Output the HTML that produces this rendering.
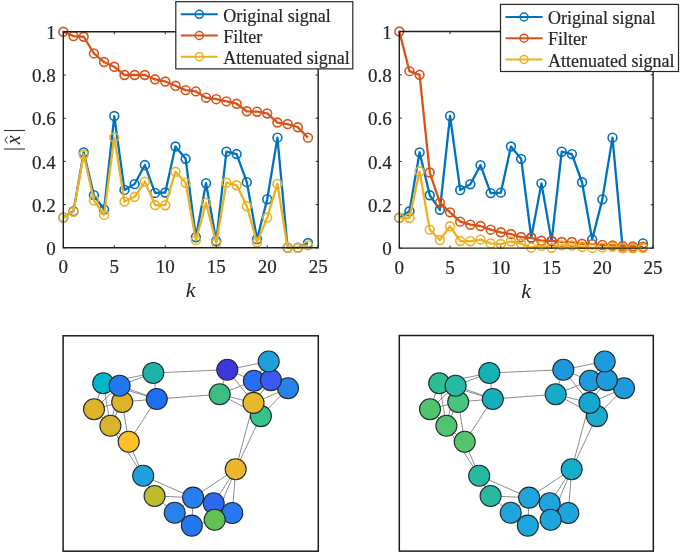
<!DOCTYPE html>
<html><head><meta charset="utf-8"><style>
html,body{margin:0;padding:0;background:#fff;}
body{width:685px;height:554px;overflow:hidden;}
svg{display:block;filter:blur(0.35px);}
.t{font-family:"Liberation Serif",serif;font-size:18px;fill:#262626;stroke:#262626;stroke-width:0.2px;}
.n{font-size:19px;}
.k{font-style:italic;stroke-width:0;}
</style></head><body>
<svg width="685" height="554" viewBox="0 0 685 554">
<rect x="63.3" y="31.8" width="254.9" height="216.0" fill="#fff" stroke="none"/>
<polyline points="63.30,217.56 73.50,211.08 83.69,152.33 93.89,195.10 104.08,209.57 114.28,116.04 124.48,189.91 134.67,184.08 144.87,165.07 155.06,192.94 165.26,192.50 175.46,146.50 185.65,158.81 195.85,237.22 206.04,183.22 216.24,240.89 226.44,151.68 236.63,154.06 246.83,182.14 257.02,239.16 267.22,199.20 277.42,137.64 287.61,247.80 297.81,247.80 308.00,243.05" fill="none" stroke="#0072BD" stroke-width="2.3" stroke-linejoin="round"/>
<circle cx="63.30" cy="217.56" r="4.4" fill="none" stroke="#0072BD" stroke-width="1.6"/>
<circle cx="73.50" cy="211.08" r="4.4" fill="none" stroke="#0072BD" stroke-width="1.6"/>
<circle cx="83.69" cy="152.33" r="4.4" fill="none" stroke="#0072BD" stroke-width="1.6"/>
<circle cx="93.89" cy="195.10" r="4.4" fill="none" stroke="#0072BD" stroke-width="1.6"/>
<circle cx="104.08" cy="209.57" r="4.4" fill="none" stroke="#0072BD" stroke-width="1.6"/>
<circle cx="114.28" cy="116.04" r="4.4" fill="none" stroke="#0072BD" stroke-width="1.6"/>
<circle cx="124.48" cy="189.91" r="4.4" fill="none" stroke="#0072BD" stroke-width="1.6"/>
<circle cx="134.67" cy="184.08" r="4.4" fill="none" stroke="#0072BD" stroke-width="1.6"/>
<circle cx="144.87" cy="165.07" r="4.4" fill="none" stroke="#0072BD" stroke-width="1.6"/>
<circle cx="155.06" cy="192.94" r="4.4" fill="none" stroke="#0072BD" stroke-width="1.6"/>
<circle cx="165.26" cy="192.50" r="4.4" fill="none" stroke="#0072BD" stroke-width="1.6"/>
<circle cx="175.46" cy="146.50" r="4.4" fill="none" stroke="#0072BD" stroke-width="1.6"/>
<circle cx="185.65" cy="158.81" r="4.4" fill="none" stroke="#0072BD" stroke-width="1.6"/>
<circle cx="195.85" cy="237.22" r="4.4" fill="none" stroke="#0072BD" stroke-width="1.6"/>
<circle cx="206.04" cy="183.22" r="4.4" fill="none" stroke="#0072BD" stroke-width="1.6"/>
<circle cx="216.24" cy="240.89" r="4.4" fill="none" stroke="#0072BD" stroke-width="1.6"/>
<circle cx="226.44" cy="151.68" r="4.4" fill="none" stroke="#0072BD" stroke-width="1.6"/>
<circle cx="236.63" cy="154.06" r="4.4" fill="none" stroke="#0072BD" stroke-width="1.6"/>
<circle cx="246.83" cy="182.14" r="4.4" fill="none" stroke="#0072BD" stroke-width="1.6"/>
<circle cx="257.02" cy="239.16" r="4.4" fill="none" stroke="#0072BD" stroke-width="1.6"/>
<circle cx="267.22" cy="199.20" r="4.4" fill="none" stroke="#0072BD" stroke-width="1.6"/>
<circle cx="277.42" cy="137.64" r="4.4" fill="none" stroke="#0072BD" stroke-width="1.6"/>
<circle cx="287.61" cy="247.80" r="4.4" fill="none" stroke="#0072BD" stroke-width="1.6"/>
<circle cx="297.81" cy="247.80" r="4.4" fill="none" stroke="#0072BD" stroke-width="1.6"/>
<circle cx="308.00" cy="243.05" r="4.4" fill="none" stroke="#0072BD" stroke-width="1.6"/>
<polyline points="63.30,31.80 73.50,36.12 83.69,36.77 93.89,53.40 104.08,62.04 114.28,66.79 124.48,75.00 134.67,75.00 144.87,75.00 155.06,79.32 165.26,81.48 175.46,85.80 185.65,90.12 195.85,91.42 206.04,97.68 216.24,99.19 226.44,101.35 236.63,103.73 246.83,111.29 257.02,111.72 267.22,113.45 277.42,122.52 287.61,124.03 297.81,127.27 308.00,137.64" fill="none" stroke="#D95319" stroke-width="2.3" stroke-linejoin="round"/>
<circle cx="63.30" cy="31.80" r="4.4" fill="none" stroke="#D95319" stroke-width="1.6"/>
<circle cx="73.50" cy="36.12" r="4.4" fill="none" stroke="#D95319" stroke-width="1.6"/>
<circle cx="83.69" cy="36.77" r="4.4" fill="none" stroke="#D95319" stroke-width="1.6"/>
<circle cx="93.89" cy="53.40" r="4.4" fill="none" stroke="#D95319" stroke-width="1.6"/>
<circle cx="104.08" cy="62.04" r="4.4" fill="none" stroke="#D95319" stroke-width="1.6"/>
<circle cx="114.28" cy="66.79" r="4.4" fill="none" stroke="#D95319" stroke-width="1.6"/>
<circle cx="124.48" cy="75.00" r="4.4" fill="none" stroke="#D95319" stroke-width="1.6"/>
<circle cx="134.67" cy="75.00" r="4.4" fill="none" stroke="#D95319" stroke-width="1.6"/>
<circle cx="144.87" cy="75.00" r="4.4" fill="none" stroke="#D95319" stroke-width="1.6"/>
<circle cx="155.06" cy="79.32" r="4.4" fill="none" stroke="#D95319" stroke-width="1.6"/>
<circle cx="165.26" cy="81.48" r="4.4" fill="none" stroke="#D95319" stroke-width="1.6"/>
<circle cx="175.46" cy="85.80" r="4.4" fill="none" stroke="#D95319" stroke-width="1.6"/>
<circle cx="185.65" cy="90.12" r="4.4" fill="none" stroke="#D95319" stroke-width="1.6"/>
<circle cx="195.85" cy="91.42" r="4.4" fill="none" stroke="#D95319" stroke-width="1.6"/>
<circle cx="206.04" cy="97.68" r="4.4" fill="none" stroke="#D95319" stroke-width="1.6"/>
<circle cx="216.24" cy="99.19" r="4.4" fill="none" stroke="#D95319" stroke-width="1.6"/>
<circle cx="226.44" cy="101.35" r="4.4" fill="none" stroke="#D95319" stroke-width="1.6"/>
<circle cx="236.63" cy="103.73" r="4.4" fill="none" stroke="#D95319" stroke-width="1.6"/>
<circle cx="246.83" cy="111.29" r="4.4" fill="none" stroke="#D95319" stroke-width="1.6"/>
<circle cx="257.02" cy="111.72" r="4.4" fill="none" stroke="#D95319" stroke-width="1.6"/>
<circle cx="267.22" cy="113.45" r="4.4" fill="none" stroke="#D95319" stroke-width="1.6"/>
<circle cx="277.42" cy="122.52" r="4.4" fill="none" stroke="#D95319" stroke-width="1.6"/>
<circle cx="287.61" cy="124.03" r="4.4" fill="none" stroke="#D95319" stroke-width="1.6"/>
<circle cx="297.81" cy="127.27" r="4.4" fill="none" stroke="#D95319" stroke-width="1.6"/>
<circle cx="308.00" cy="137.64" r="4.4" fill="none" stroke="#D95319" stroke-width="1.6"/>
<polyline points="63.30,217.56 73.50,211.81 83.69,154.52 93.89,200.37 104.08,214.92 114.28,137.39 124.48,201.49 134.67,196.82 144.87,181.62 155.06,205.01 165.26,205.22 175.46,171.82 185.65,182.84 195.85,240.14 206.04,202.91 216.24,243.04 226.44,182.63 236.63,185.27 246.83,206.30 257.02,242.36 267.22,217.57 277.42,183.91 287.61,247.80 297.81,247.80 308.00,245.38" fill="none" stroke="#EDB120" stroke-width="2.3" stroke-linejoin="round"/>
<circle cx="63.30" cy="217.56" r="4.4" fill="none" stroke="#EDB120" stroke-width="1.6"/>
<circle cx="73.50" cy="211.81" r="4.4" fill="none" stroke="#EDB120" stroke-width="1.6"/>
<circle cx="83.69" cy="154.52" r="4.4" fill="none" stroke="#EDB120" stroke-width="1.6"/>
<circle cx="93.89" cy="200.37" r="4.4" fill="none" stroke="#EDB120" stroke-width="1.6"/>
<circle cx="104.08" cy="214.92" r="4.4" fill="none" stroke="#EDB120" stroke-width="1.6"/>
<circle cx="114.28" cy="137.39" r="4.4" fill="none" stroke="#EDB120" stroke-width="1.6"/>
<circle cx="124.48" cy="201.49" r="4.4" fill="none" stroke="#EDB120" stroke-width="1.6"/>
<circle cx="134.67" cy="196.82" r="4.4" fill="none" stroke="#EDB120" stroke-width="1.6"/>
<circle cx="144.87" cy="181.62" r="4.4" fill="none" stroke="#EDB120" stroke-width="1.6"/>
<circle cx="155.06" cy="205.01" r="4.4" fill="none" stroke="#EDB120" stroke-width="1.6"/>
<circle cx="165.26" cy="205.22" r="4.4" fill="none" stroke="#EDB120" stroke-width="1.6"/>
<circle cx="175.46" cy="171.82" r="4.4" fill="none" stroke="#EDB120" stroke-width="1.6"/>
<circle cx="185.65" cy="182.84" r="4.4" fill="none" stroke="#EDB120" stroke-width="1.6"/>
<circle cx="195.85" cy="240.14" r="4.4" fill="none" stroke="#EDB120" stroke-width="1.6"/>
<circle cx="206.04" cy="202.91" r="4.4" fill="none" stroke="#EDB120" stroke-width="1.6"/>
<circle cx="216.24" cy="243.04" r="4.4" fill="none" stroke="#EDB120" stroke-width="1.6"/>
<circle cx="226.44" cy="182.63" r="4.4" fill="none" stroke="#EDB120" stroke-width="1.6"/>
<circle cx="236.63" cy="185.27" r="4.4" fill="none" stroke="#EDB120" stroke-width="1.6"/>
<circle cx="246.83" cy="206.30" r="4.4" fill="none" stroke="#EDB120" stroke-width="1.6"/>
<circle cx="257.02" cy="242.36" r="4.4" fill="none" stroke="#EDB120" stroke-width="1.6"/>
<circle cx="267.22" cy="217.57" r="4.4" fill="none" stroke="#EDB120" stroke-width="1.6"/>
<circle cx="277.42" cy="183.91" r="4.4" fill="none" stroke="#EDB120" stroke-width="1.6"/>
<circle cx="287.61" cy="247.80" r="4.4" fill="none" stroke="#EDB120" stroke-width="1.6"/>
<circle cx="297.81" cy="247.80" r="4.4" fill="none" stroke="#EDB120" stroke-width="1.6"/>
<circle cx="308.00" cy="245.38" r="4.4" fill="none" stroke="#EDB120" stroke-width="1.6"/>
<path d="M63.3,31.8 V247.8 H318.2 V31.8 Z" fill="none" stroke="#1f1f1f" stroke-width="1.4"/>
<line x1="63.30" y1="247.8" x2="63.30" y2="245.3" stroke="#262626" stroke-width="1"/>
<line x1="63.30" y1="31.8" x2="63.30" y2="34.3" stroke="#262626" stroke-width="1"/>
<text x="63.30" y="273.3" text-anchor="middle" class="t n">0</text>
<line x1="63.3" y1="247.80" x2="65.8" y2="247.80" stroke="#262626" stroke-width="1"/>
<line x1="318.2" y1="247.80" x2="315.7" y2="247.80" stroke="#262626" stroke-width="1"/>
<text x="55.8" y="255.00" text-anchor="end" class="t n">0</text>
<line x1="114.28" y1="247.8" x2="114.28" y2="245.3" stroke="#262626" stroke-width="1"/>
<line x1="114.28" y1="31.8" x2="114.28" y2="34.3" stroke="#262626" stroke-width="1"/>
<text x="114.28" y="273.3" text-anchor="middle" class="t n">5</text>
<line x1="63.3" y1="204.60" x2="65.8" y2="204.60" stroke="#262626" stroke-width="1"/>
<line x1="318.2" y1="204.60" x2="315.7" y2="204.60" stroke="#262626" stroke-width="1"/>
<text x="55.8" y="211.80" text-anchor="end" class="t n">0.2</text>
<line x1="165.26" y1="247.8" x2="165.26" y2="245.3" stroke="#262626" stroke-width="1"/>
<line x1="165.26" y1="31.8" x2="165.26" y2="34.3" stroke="#262626" stroke-width="1"/>
<text x="165.26" y="273.3" text-anchor="middle" class="t n">10</text>
<line x1="63.3" y1="161.40" x2="65.8" y2="161.40" stroke="#262626" stroke-width="1"/>
<line x1="318.2" y1="161.40" x2="315.7" y2="161.40" stroke="#262626" stroke-width="1"/>
<text x="55.8" y="168.60" text-anchor="end" class="t n">0.4</text>
<line x1="216.24" y1="247.8" x2="216.24" y2="245.3" stroke="#262626" stroke-width="1"/>
<line x1="216.24" y1="31.8" x2="216.24" y2="34.3" stroke="#262626" stroke-width="1"/>
<text x="216.24" y="273.3" text-anchor="middle" class="t n">15</text>
<line x1="63.3" y1="118.20" x2="65.8" y2="118.20" stroke="#262626" stroke-width="1"/>
<line x1="318.2" y1="118.20" x2="315.7" y2="118.20" stroke="#262626" stroke-width="1"/>
<text x="55.8" y="125.40" text-anchor="end" class="t n">0.6</text>
<line x1="267.22" y1="247.8" x2="267.22" y2="245.3" stroke="#262626" stroke-width="1"/>
<line x1="267.22" y1="31.8" x2="267.22" y2="34.3" stroke="#262626" stroke-width="1"/>
<text x="267.22" y="273.3" text-anchor="middle" class="t n">20</text>
<line x1="63.3" y1="75.00" x2="65.8" y2="75.00" stroke="#262626" stroke-width="1"/>
<line x1="318.2" y1="75.00" x2="315.7" y2="75.00" stroke="#262626" stroke-width="1"/>
<text x="55.8" y="82.20" text-anchor="end" class="t n">0.8</text>
<line x1="318.20" y1="247.8" x2="318.20" y2="245.3" stroke="#262626" stroke-width="1"/>
<line x1="318.20" y1="31.8" x2="318.20" y2="34.3" stroke="#262626" stroke-width="1"/>
<text x="318.20" y="273.3" text-anchor="middle" class="t n">25</text>
<line x1="63.3" y1="31.80" x2="65.8" y2="31.80" stroke="#262626" stroke-width="1"/>
<line x1="318.2" y1="31.80" x2="315.7" y2="31.80" stroke="#262626" stroke-width="1"/>
<text x="55.8" y="39.00" text-anchor="end" class="t n">1</text>
<text x="190.75" y="297.3" text-anchor="middle" class="t k" style="font-size:22px">k</text>
<rect x="399.3" y="31.5" width="253.8" height="216.6" fill="#fff" stroke="none"/>
<polyline points="399.30,217.78 409.45,211.28 419.60,152.36 429.76,195.25 439.91,209.76 450.06,115.97 460.21,190.05 470.36,184.20 480.52,165.14 490.67,193.08 500.82,192.65 510.97,146.51 521.12,158.86 531.28,237.49 541.43,183.34 551.58,241.17 561.73,151.71 571.88,154.10 582.04,182.25 592.19,239.44 602.34,199.37 612.49,137.63 622.64,248.10 632.80,248.10 642.95,243.33" fill="none" stroke="#0072BD" stroke-width="2.3" stroke-linejoin="round"/>
<circle cx="399.30" cy="217.78" r="4.4" fill="none" stroke="#0072BD" stroke-width="1.6"/>
<circle cx="409.45" cy="211.28" r="4.4" fill="none" stroke="#0072BD" stroke-width="1.6"/>
<circle cx="419.60" cy="152.36" r="4.4" fill="none" stroke="#0072BD" stroke-width="1.6"/>
<circle cx="429.76" cy="195.25" r="4.4" fill="none" stroke="#0072BD" stroke-width="1.6"/>
<circle cx="439.91" cy="209.76" r="4.4" fill="none" stroke="#0072BD" stroke-width="1.6"/>
<circle cx="450.06" cy="115.97" r="4.4" fill="none" stroke="#0072BD" stroke-width="1.6"/>
<circle cx="460.21" cy="190.05" r="4.4" fill="none" stroke="#0072BD" stroke-width="1.6"/>
<circle cx="470.36" cy="184.20" r="4.4" fill="none" stroke="#0072BD" stroke-width="1.6"/>
<circle cx="480.52" cy="165.14" r="4.4" fill="none" stroke="#0072BD" stroke-width="1.6"/>
<circle cx="490.67" cy="193.08" r="4.4" fill="none" stroke="#0072BD" stroke-width="1.6"/>
<circle cx="500.82" cy="192.65" r="4.4" fill="none" stroke="#0072BD" stroke-width="1.6"/>
<circle cx="510.97" cy="146.51" r="4.4" fill="none" stroke="#0072BD" stroke-width="1.6"/>
<circle cx="521.12" cy="158.86" r="4.4" fill="none" stroke="#0072BD" stroke-width="1.6"/>
<circle cx="531.28" cy="237.49" r="4.4" fill="none" stroke="#0072BD" stroke-width="1.6"/>
<circle cx="541.43" cy="183.34" r="4.4" fill="none" stroke="#0072BD" stroke-width="1.6"/>
<circle cx="551.58" cy="241.17" r="4.4" fill="none" stroke="#0072BD" stroke-width="1.6"/>
<circle cx="561.73" cy="151.71" r="4.4" fill="none" stroke="#0072BD" stroke-width="1.6"/>
<circle cx="571.88" cy="154.10" r="4.4" fill="none" stroke="#0072BD" stroke-width="1.6"/>
<circle cx="582.04" cy="182.25" r="4.4" fill="none" stroke="#0072BD" stroke-width="1.6"/>
<circle cx="592.19" cy="239.44" r="4.4" fill="none" stroke="#0072BD" stroke-width="1.6"/>
<circle cx="602.34" cy="199.37" r="4.4" fill="none" stroke="#0072BD" stroke-width="1.6"/>
<circle cx="612.49" cy="137.63" r="4.4" fill="none" stroke="#0072BD" stroke-width="1.6"/>
<circle cx="622.64" cy="248.10" r="4.4" fill="none" stroke="#0072BD" stroke-width="1.6"/>
<circle cx="632.80" cy="248.10" r="4.4" fill="none" stroke="#0072BD" stroke-width="1.6"/>
<circle cx="642.95" cy="243.33" r="4.4" fill="none" stroke="#0072BD" stroke-width="1.6"/>
<polyline points="399.30,31.50 409.45,71.14 419.60,74.82 429.76,172.51 439.91,202.61 450.06,212.36 460.21,221.67 470.36,224.71 480.52,226.01 490.67,229.69 500.82,232.29 510.97,234.02 521.12,237.05 531.28,237.92 541.43,240.74 551.58,240.74 561.73,242.04 571.88,242.04 582.04,243.77 592.19,244.20 602.34,244.85 612.49,245.50 622.64,245.93 632.80,246.37 642.95,246.80" fill="none" stroke="#D95319" stroke-width="2.3" stroke-linejoin="round"/>
<circle cx="399.30" cy="31.50" r="4.4" fill="none" stroke="#D95319" stroke-width="1.6"/>
<circle cx="409.45" cy="71.14" r="4.4" fill="none" stroke="#D95319" stroke-width="1.6"/>
<circle cx="419.60" cy="74.82" r="4.4" fill="none" stroke="#D95319" stroke-width="1.6"/>
<circle cx="429.76" cy="172.51" r="4.4" fill="none" stroke="#D95319" stroke-width="1.6"/>
<circle cx="439.91" cy="202.61" r="4.4" fill="none" stroke="#D95319" stroke-width="1.6"/>
<circle cx="450.06" cy="212.36" r="4.4" fill="none" stroke="#D95319" stroke-width="1.6"/>
<circle cx="460.21" cy="221.67" r="4.4" fill="none" stroke="#D95319" stroke-width="1.6"/>
<circle cx="470.36" cy="224.71" r="4.4" fill="none" stroke="#D95319" stroke-width="1.6"/>
<circle cx="480.52" cy="226.01" r="4.4" fill="none" stroke="#D95319" stroke-width="1.6"/>
<circle cx="490.67" cy="229.69" r="4.4" fill="none" stroke="#D95319" stroke-width="1.6"/>
<circle cx="500.82" cy="232.29" r="4.4" fill="none" stroke="#D95319" stroke-width="1.6"/>
<circle cx="510.97" cy="234.02" r="4.4" fill="none" stroke="#D95319" stroke-width="1.6"/>
<circle cx="521.12" cy="237.05" r="4.4" fill="none" stroke="#D95319" stroke-width="1.6"/>
<circle cx="531.28" cy="237.92" r="4.4" fill="none" stroke="#D95319" stroke-width="1.6"/>
<circle cx="541.43" cy="240.74" r="4.4" fill="none" stroke="#D95319" stroke-width="1.6"/>
<circle cx="551.58" cy="240.74" r="4.4" fill="none" stroke="#D95319" stroke-width="1.6"/>
<circle cx="561.73" cy="242.04" r="4.4" fill="none" stroke="#D95319" stroke-width="1.6"/>
<circle cx="571.88" cy="242.04" r="4.4" fill="none" stroke="#D95319" stroke-width="1.6"/>
<circle cx="582.04" cy="243.77" r="4.4" fill="none" stroke="#D95319" stroke-width="1.6"/>
<circle cx="592.19" cy="244.20" r="4.4" fill="none" stroke="#D95319" stroke-width="1.6"/>
<circle cx="602.34" cy="244.85" r="4.4" fill="none" stroke="#D95319" stroke-width="1.6"/>
<circle cx="612.49" cy="245.50" r="4.4" fill="none" stroke="#D95319" stroke-width="1.6"/>
<circle cx="622.64" cy="245.93" r="4.4" fill="none" stroke="#D95319" stroke-width="1.6"/>
<circle cx="632.80" cy="246.37" r="4.4" fill="none" stroke="#D95319" stroke-width="1.6"/>
<circle cx="642.95" cy="246.80" r="4.4" fill="none" stroke="#D95319" stroke-width="1.6"/>
<polyline points="399.30,217.78 409.45,218.02 419.60,171.51 429.76,229.66 439.91,240.05 450.06,226.30 460.21,241.02 470.36,241.20 480.52,239.64 490.67,243.42 500.82,244.05 510.97,241.50 521.12,243.55 531.28,247.60 541.43,245.90 551.58,247.86 561.73,245.40 571.88,245.47 582.04,246.78 592.19,247.94 602.34,247.37 612.49,246.77 622.64,248.10 632.80,248.10 642.95,248.07" fill="none" stroke="#EDB120" stroke-width="2.3" stroke-linejoin="round"/>
<circle cx="399.30" cy="217.78" r="4.4" fill="none" stroke="#EDB120" stroke-width="1.6"/>
<circle cx="409.45" cy="218.02" r="4.4" fill="none" stroke="#EDB120" stroke-width="1.6"/>
<circle cx="419.60" cy="171.51" r="4.4" fill="none" stroke="#EDB120" stroke-width="1.6"/>
<circle cx="429.76" cy="229.66" r="4.4" fill="none" stroke="#EDB120" stroke-width="1.6"/>
<circle cx="439.91" cy="240.05" r="4.4" fill="none" stroke="#EDB120" stroke-width="1.6"/>
<circle cx="450.06" cy="226.30" r="4.4" fill="none" stroke="#EDB120" stroke-width="1.6"/>
<circle cx="460.21" cy="241.02" r="4.4" fill="none" stroke="#EDB120" stroke-width="1.6"/>
<circle cx="470.36" cy="241.20" r="4.4" fill="none" stroke="#EDB120" stroke-width="1.6"/>
<circle cx="480.52" cy="239.64" r="4.4" fill="none" stroke="#EDB120" stroke-width="1.6"/>
<circle cx="490.67" cy="243.42" r="4.4" fill="none" stroke="#EDB120" stroke-width="1.6"/>
<circle cx="500.82" cy="244.05" r="4.4" fill="none" stroke="#EDB120" stroke-width="1.6"/>
<circle cx="510.97" cy="241.50" r="4.4" fill="none" stroke="#EDB120" stroke-width="1.6"/>
<circle cx="521.12" cy="243.55" r="4.4" fill="none" stroke="#EDB120" stroke-width="1.6"/>
<circle cx="531.28" cy="247.60" r="4.4" fill="none" stroke="#EDB120" stroke-width="1.6"/>
<circle cx="541.43" cy="245.90" r="4.4" fill="none" stroke="#EDB120" stroke-width="1.6"/>
<circle cx="551.58" cy="247.86" r="4.4" fill="none" stroke="#EDB120" stroke-width="1.6"/>
<circle cx="561.73" cy="245.40" r="4.4" fill="none" stroke="#EDB120" stroke-width="1.6"/>
<circle cx="571.88" cy="245.47" r="4.4" fill="none" stroke="#EDB120" stroke-width="1.6"/>
<circle cx="582.04" cy="246.78" r="4.4" fill="none" stroke="#EDB120" stroke-width="1.6"/>
<circle cx="592.19" cy="247.94" r="4.4" fill="none" stroke="#EDB120" stroke-width="1.6"/>
<circle cx="602.34" cy="247.37" r="4.4" fill="none" stroke="#EDB120" stroke-width="1.6"/>
<circle cx="612.49" cy="246.77" r="4.4" fill="none" stroke="#EDB120" stroke-width="1.6"/>
<circle cx="622.64" cy="248.10" r="4.4" fill="none" stroke="#EDB120" stroke-width="1.6"/>
<circle cx="632.80" cy="248.10" r="4.4" fill="none" stroke="#EDB120" stroke-width="1.6"/>
<circle cx="642.95" cy="248.07" r="4.4" fill="none" stroke="#EDB120" stroke-width="1.6"/>
<path d="M399.3,31.5 V248.1 H653.1 V31.5 Z" fill="none" stroke="#1f1f1f" stroke-width="1.4"/>
<line x1="399.30" y1="248.1" x2="399.30" y2="245.6" stroke="#262626" stroke-width="1"/>
<line x1="399.30" y1="31.5" x2="399.30" y2="34.0" stroke="#262626" stroke-width="1"/>
<text x="399.30" y="273.6" text-anchor="middle" class="t n">0</text>
<line x1="399.3" y1="248.10" x2="401.8" y2="248.10" stroke="#262626" stroke-width="1"/>
<line x1="653.1" y1="248.10" x2="650.6" y2="248.10" stroke="#262626" stroke-width="1"/>
<text x="391.8" y="255.30" text-anchor="end" class="t n">0</text>
<line x1="450.06" y1="248.1" x2="450.06" y2="245.6" stroke="#262626" stroke-width="1"/>
<line x1="450.06" y1="31.5" x2="450.06" y2="34.0" stroke="#262626" stroke-width="1"/>
<text x="450.06" y="273.6" text-anchor="middle" class="t n">5</text>
<line x1="399.3" y1="204.78" x2="401.8" y2="204.78" stroke="#262626" stroke-width="1"/>
<line x1="653.1" y1="204.78" x2="650.6" y2="204.78" stroke="#262626" stroke-width="1"/>
<text x="391.8" y="211.98" text-anchor="end" class="t n">0.2</text>
<line x1="500.82" y1="248.1" x2="500.82" y2="245.6" stroke="#262626" stroke-width="1"/>
<line x1="500.82" y1="31.5" x2="500.82" y2="34.0" stroke="#262626" stroke-width="1"/>
<text x="500.82" y="273.6" text-anchor="middle" class="t n">10</text>
<line x1="399.3" y1="161.46" x2="401.8" y2="161.46" stroke="#262626" stroke-width="1"/>
<line x1="653.1" y1="161.46" x2="650.6" y2="161.46" stroke="#262626" stroke-width="1"/>
<text x="391.8" y="168.66" text-anchor="end" class="t n">0.4</text>
<line x1="551.58" y1="248.1" x2="551.58" y2="245.6" stroke="#262626" stroke-width="1"/>
<line x1="551.58" y1="31.5" x2="551.58" y2="34.0" stroke="#262626" stroke-width="1"/>
<text x="551.58" y="273.6" text-anchor="middle" class="t n">15</text>
<line x1="399.3" y1="118.14" x2="401.8" y2="118.14" stroke="#262626" stroke-width="1"/>
<line x1="653.1" y1="118.14" x2="650.6" y2="118.14" stroke="#262626" stroke-width="1"/>
<text x="391.8" y="125.34" text-anchor="end" class="t n">0.6</text>
<line x1="602.34" y1="248.1" x2="602.34" y2="245.6" stroke="#262626" stroke-width="1"/>
<line x1="602.34" y1="31.5" x2="602.34" y2="34.0" stroke="#262626" stroke-width="1"/>
<text x="602.34" y="273.6" text-anchor="middle" class="t n">20</text>
<line x1="399.3" y1="74.82" x2="401.8" y2="74.82" stroke="#262626" stroke-width="1"/>
<line x1="653.1" y1="74.82" x2="650.6" y2="74.82" stroke="#262626" stroke-width="1"/>
<text x="391.8" y="82.02" text-anchor="end" class="t n">0.8</text>
<line x1="653.10" y1="248.1" x2="653.10" y2="245.6" stroke="#262626" stroke-width="1"/>
<line x1="653.10" y1="31.5" x2="653.10" y2="34.0" stroke="#262626" stroke-width="1"/>
<text x="653.10" y="273.6" text-anchor="middle" class="t n">25</text>
<line x1="399.3" y1="31.50" x2="401.8" y2="31.50" stroke="#262626" stroke-width="1"/>
<line x1="653.1" y1="31.50" x2="650.6" y2="31.50" stroke="#262626" stroke-width="1"/>
<text x="391.8" y="38.70" text-anchor="end" class="t n">1</text>
<text x="526.20" y="297.6" text-anchor="middle" class="t k" style="font-size:22px">k</text>
<rect x="175.8" y="1.7" width="177" height="67.2" fill="#fff" stroke="#262626" stroke-width="1.2"/>
<line x1="180.8" y1="14.30" x2="217.8" y2="14.30" stroke="#0072BD" stroke-width="2"/>
<circle cx="199.3" cy="14.30" r="4" fill="none" stroke="#0072BD" stroke-width="1.5"/>
<text x="223.3" y="21.50" class="t">Original signal</text>
<line x1="180.8" y1="35.50" x2="217.8" y2="35.50" stroke="#D95319" stroke-width="2"/>
<circle cx="199.3" cy="35.50" r="4" fill="none" stroke="#D95319" stroke-width="1.5"/>
<text x="223.3" y="42.70" class="t">Filter</text>
<line x1="180.8" y1="56.70" x2="217.8" y2="56.70" stroke="#EDB120" stroke-width="2"/>
<circle cx="199.3" cy="56.70" r="4" fill="none" stroke="#EDB120" stroke-width="1.5"/>
<text x="223.3" y="63.90" class="t">Attenuated signal</text>
<rect x="500.5" y="4.4" width="178" height="67.1" fill="#fff" stroke="#262626" stroke-width="1.2"/>
<line x1="505.5" y1="17.00" x2="542.5" y2="17.00" stroke="#0072BD" stroke-width="2"/>
<circle cx="524.0" cy="17.00" r="4" fill="none" stroke="#0072BD" stroke-width="1.5"/>
<text x="548.0" y="24.20" class="t">Original signal</text>
<line x1="505.5" y1="38.20" x2="542.5" y2="38.20" stroke="#D95319" stroke-width="2"/>
<circle cx="524.0" cy="38.20" r="4" fill="none" stroke="#D95319" stroke-width="1.5"/>
<text x="548.0" y="45.40" class="t">Filter</text>
<line x1="505.5" y1="59.40" x2="542.5" y2="59.40" stroke="#EDB120" stroke-width="2"/>
<circle cx="524.0" cy="59.40" r="4" fill="none" stroke="#EDB120" stroke-width="1.5"/>
<text x="548.0" y="66.60" class="t">Attenuated signal</text>
<g stroke="#333" stroke-width="1.1"><line x1="4" y1="130.5" x2="25" y2="130.5"/><line x1="4" y1="149" x2="25" y2="149"/></g>
<text transform="translate(20.2,139.9) rotate(-90)" text-anchor="middle" class="t k" style="font-size:20px">x</text>
<path d="M7.4,136.6 L5,140 L7.4,143.4" fill="none" stroke="#262626" stroke-width="1"/>
<rect x="63.1" y="335.8" width="255.2" height="215.4" fill="#fff" stroke="#1c1c1c" stroke-width="1.5"/>
<rect x="399.3" y="335.5" width="254" height="215.6" fill="#fff" stroke="#1c1c1c" stroke-width="1.5"/>
<line x1="103.2" y1="383.2" x2="119.6" y2="385.7" stroke="#8e8e8e" stroke-width="1"/>
<line x1="103.2" y1="383.2" x2="153.3" y2="373.0" stroke="#8e8e8e" stroke-width="1"/>
<line x1="119.6" y1="385.7" x2="153.3" y2="373.0" stroke="#8e8e8e" stroke-width="1"/>
<line x1="103.2" y1="383.2" x2="122.2" y2="402.0" stroke="#8e8e8e" stroke-width="1"/>
<line x1="103.2" y1="383.2" x2="94.0" y2="409.2" stroke="#8e8e8e" stroke-width="1"/>
<line x1="103.2" y1="383.2" x2="110.4" y2="425.7" stroke="#8e8e8e" stroke-width="1"/>
<line x1="119.6" y1="385.7" x2="122.2" y2="402.0" stroke="#8e8e8e" stroke-width="1"/>
<line x1="119.6" y1="385.7" x2="156.8" y2="399.0" stroke="#8e8e8e" stroke-width="1"/>
<line x1="153.3" y1="373.0" x2="156.8" y2="399.0" stroke="#8e8e8e" stroke-width="1"/>
<line x1="122.2" y1="402.0" x2="156.8" y2="399.0" stroke="#8e8e8e" stroke-width="1"/>
<line x1="122.2" y1="402.0" x2="94.0" y2="409.2" stroke="#8e8e8e" stroke-width="1"/>
<line x1="122.2" y1="402.0" x2="110.4" y2="425.7" stroke="#8e8e8e" stroke-width="1"/>
<line x1="94.0" y1="409.2" x2="110.4" y2="425.7" stroke="#8e8e8e" stroke-width="1"/>
<line x1="110.4" y1="425.7" x2="128.7" y2="441.8" stroke="#8e8e8e" stroke-width="1"/>
<line x1="122.2" y1="402.0" x2="128.7" y2="441.8" stroke="#8e8e8e" stroke-width="1"/>
<line x1="156.8" y1="399.0" x2="128.7" y2="441.8" stroke="#8e8e8e" stroke-width="1"/>
<line x1="119.6" y1="385.7" x2="110.4" y2="425.7" stroke="#8e8e8e" stroke-width="1"/>
<line x1="119.6" y1="385.7" x2="94.0" y2="409.2" stroke="#8e8e8e" stroke-width="1"/>
<line x1="103.2" y1="383.2" x2="156.8" y2="399.0" stroke="#8e8e8e" stroke-width="1"/>
<line x1="153.3" y1="373.0" x2="227.3" y2="369.7" stroke="#8e8e8e" stroke-width="1"/>
<line x1="156.8" y1="399.0" x2="219.7" y2="394.3" stroke="#8e8e8e" stroke-width="1"/>
<line x1="128.7" y1="441.8" x2="143.2" y2="475.7" stroke="#8e8e8e" stroke-width="1"/>
<line x1="143.2" y1="475.7" x2="154.6" y2="496.0" stroke="#8e8e8e" stroke-width="1"/>
<line x1="143.2" y1="475.7" x2="193.1" y2="497.6" stroke="#8e8e8e" stroke-width="1"/>
<line x1="154.6" y1="496.0" x2="193.1" y2="497.6" stroke="#8e8e8e" stroke-width="1"/>
<line x1="154.6" y1="496.0" x2="174.7" y2="512.8" stroke="#8e8e8e" stroke-width="1"/>
<line x1="193.1" y1="497.6" x2="174.7" y2="512.8" stroke="#8e8e8e" stroke-width="1"/>
<line x1="193.1" y1="497.6" x2="191.8" y2="525.6" stroke="#8e8e8e" stroke-width="1"/>
<line x1="174.7" y1="512.8" x2="191.8" y2="525.6" stroke="#8e8e8e" stroke-width="1"/>
<line x1="193.1" y1="497.6" x2="213.7" y2="503.3" stroke="#8e8e8e" stroke-width="1"/>
<line x1="213.7" y1="503.3" x2="232.3" y2="513.0" stroke="#8e8e8e" stroke-width="1"/>
<line x1="213.7" y1="503.3" x2="214.7" y2="519.8" stroke="#8e8e8e" stroke-width="1"/>
<line x1="191.8" y1="525.6" x2="214.7" y2="519.8" stroke="#8e8e8e" stroke-width="1"/>
<line x1="235.7" y1="469.3" x2="193.1" y2="497.6" stroke="#8e8e8e" stroke-width="1"/>
<line x1="235.7" y1="469.3" x2="213.7" y2="503.3" stroke="#8e8e8e" stroke-width="1"/>
<line x1="235.7" y1="469.3" x2="232.3" y2="513.0" stroke="#8e8e8e" stroke-width="1"/>
<line x1="235.7" y1="469.3" x2="214.7" y2="519.8" stroke="#8e8e8e" stroke-width="1"/>
<line x1="235.7" y1="469.3" x2="260.9" y2="416.1" stroke="#8e8e8e" stroke-width="1"/>
<line x1="235.7" y1="469.3" x2="253.5" y2="402.9" stroke="#8e8e8e" stroke-width="1"/>
<line x1="110.4" y1="425.7" x2="143.2" y2="475.7" stroke="#8e8e8e" stroke-width="1"/>
<line x1="227.3" y1="369.7" x2="268.7" y2="361.5" stroke="#8e8e8e" stroke-width="1"/>
<line x1="227.3" y1="369.7" x2="253.9" y2="380.7" stroke="#8e8e8e" stroke-width="1"/>
<line x1="227.3" y1="369.7" x2="253.5" y2="402.9" stroke="#8e8e8e" stroke-width="1"/>
<line x1="268.7" y1="361.5" x2="253.9" y2="380.7" stroke="#8e8e8e" stroke-width="1"/>
<line x1="268.7" y1="361.5" x2="270.9" y2="380.1" stroke="#8e8e8e" stroke-width="1"/>
<line x1="253.9" y1="380.7" x2="270.9" y2="380.1" stroke="#8e8e8e" stroke-width="1"/>
<line x1="270.9" y1="380.1" x2="288.0" y2="388.3" stroke="#8e8e8e" stroke-width="1"/>
<line x1="253.9" y1="380.7" x2="288.0" y2="388.3" stroke="#8e8e8e" stroke-width="1"/>
<line x1="219.7" y1="394.3" x2="253.9" y2="380.7" stroke="#8e8e8e" stroke-width="1"/>
<line x1="219.7" y1="394.3" x2="253.5" y2="402.9" stroke="#8e8e8e" stroke-width="1"/>
<line x1="253.5" y1="402.9" x2="260.9" y2="416.1" stroke="#8e8e8e" stroke-width="1"/>
<line x1="253.5" y1="402.9" x2="288.0" y2="388.3" stroke="#8e8e8e" stroke-width="1"/>
<line x1="227.3" y1="369.7" x2="219.7" y2="394.3" stroke="#8e8e8e" stroke-width="1"/>
<line x1="253.9" y1="380.7" x2="253.5" y2="402.9" stroke="#8e8e8e" stroke-width="1"/>
<line x1="270.9" y1="380.1" x2="253.5" y2="402.9" stroke="#8e8e8e" stroke-width="1"/>
<line x1="219.7" y1="394.3" x2="260.9" y2="416.1" stroke="#8e8e8e" stroke-width="1"/>
<line x1="288.0" y1="388.3" x2="260.9" y2="416.1" stroke="#8e8e8e" stroke-width="1"/>
<circle cx="103.2" cy="383.2" r="10.5" fill="rgb(0, 182, 202)" stroke="#1e2a2e" stroke-width="1.1"/>
<circle cx="153.3" cy="373.0" r="10.5" fill="rgb(30, 178, 168)" stroke="#1e2a2e" stroke-width="1.1"/>
<circle cx="122.2" cy="402.0" r="10.5" fill="rgb(222, 178, 42)" stroke="#1e2a2e" stroke-width="1.1"/>
<circle cx="119.6" cy="385.7" r="10.5" fill="rgb(35, 120, 240)" stroke="#1e2a2e" stroke-width="1.1"/>
<circle cx="156.8" cy="399.0" r="10.5" fill="rgb(30, 110, 245)" stroke="#1e2a2e" stroke-width="1.1"/>
<circle cx="94.0" cy="409.2" r="10.5" fill="rgb(222, 178, 42)" stroke="#1e2a2e" stroke-width="1.1"/>
<circle cx="110.4" cy="425.7" r="10.5" fill="rgb(218, 180, 45)" stroke="#1e2a2e" stroke-width="1.1"/>
<circle cx="128.7" cy="441.8" r="10.5" fill="rgb(252, 192, 42)" stroke="#1e2a2e" stroke-width="1.1"/>
<circle cx="143.2" cy="475.7" r="10.5" fill="rgb(30, 160, 220)" stroke="#1e2a2e" stroke-width="1.1"/>
<circle cx="154.6" cy="496.0" r="10.5" fill="rgb(190, 186, 40)" stroke="#1e2a2e" stroke-width="1.1"/>
<circle cx="174.7" cy="512.8" r="10.5" fill="rgb(40, 130, 238)" stroke="#1e2a2e" stroke-width="1.1"/>
<circle cx="191.8" cy="525.6" r="10.5" fill="rgb(38, 118, 242)" stroke="#1e2a2e" stroke-width="1.1"/>
<circle cx="213.7" cy="503.3" r="10.5" fill="rgb(45, 105, 240)" stroke="#1e2a2e" stroke-width="1.1"/>
<circle cx="193.1" cy="497.6" r="10.5" fill="rgb(40, 125, 240)" stroke="#1e2a2e" stroke-width="1.1"/>
<circle cx="232.3" cy="513.0" r="10.5" fill="rgb(40, 120, 240)" stroke="#1e2a2e" stroke-width="1.1"/>
<circle cx="214.7" cy="519.8" r="10.5" fill="rgb(100, 192, 80)" stroke="#1e2a2e" stroke-width="1.1"/>
<circle cx="235.7" cy="469.3" r="10.5" fill="rgb(235, 182, 42)" stroke="#1e2a2e" stroke-width="1.1"/>
<circle cx="227.3" cy="369.7" r="10.5" fill="rgb(60, 55, 220)" stroke="#1e2a2e" stroke-width="1.1"/>
<circle cx="253.9" cy="380.7" r="10.5" fill="rgb(40, 110, 245)" stroke="#1e2a2e" stroke-width="1.1"/>
<circle cx="288.0" cy="388.3" r="10.5" fill="rgb(40, 130, 232)" stroke="#1e2a2e" stroke-width="1.1"/>
<circle cx="270.9" cy="380.1" r="10.5" fill="rgb(60, 90, 242)" stroke="#1e2a2e" stroke-width="1.1"/>
<circle cx="268.7" cy="361.5" r="10.5" fill="rgb(30, 160, 220)" stroke="#1e2a2e" stroke-width="1.1"/>
<circle cx="219.7" cy="394.3" r="10.5" fill="rgb(60, 190, 130)" stroke="#1e2a2e" stroke-width="1.1"/>
<circle cx="260.9" cy="416.1" r="10.5" fill="rgb(55, 195, 140)" stroke="#1e2a2e" stroke-width="1.1"/>
<circle cx="253.5" cy="402.9" r="10.5" fill="rgb(230, 186, 42)" stroke="#1e2a2e" stroke-width="1.1"/>
<line x1="439.2" y1="383.2" x2="455.6" y2="385.7" stroke="#8e8e8e" stroke-width="1"/>
<line x1="439.2" y1="383.2" x2="489.3" y2="373.0" stroke="#8e8e8e" stroke-width="1"/>
<line x1="455.6" y1="385.7" x2="489.3" y2="373.0" stroke="#8e8e8e" stroke-width="1"/>
<line x1="439.2" y1="383.2" x2="458.2" y2="402.0" stroke="#8e8e8e" stroke-width="1"/>
<line x1="439.2" y1="383.2" x2="430.0" y2="409.2" stroke="#8e8e8e" stroke-width="1"/>
<line x1="439.2" y1="383.2" x2="446.4" y2="425.7" stroke="#8e8e8e" stroke-width="1"/>
<line x1="455.6" y1="385.7" x2="458.2" y2="402.0" stroke="#8e8e8e" stroke-width="1"/>
<line x1="455.6" y1="385.7" x2="492.8" y2="399.0" stroke="#8e8e8e" stroke-width="1"/>
<line x1="489.3" y1="373.0" x2="492.8" y2="399.0" stroke="#8e8e8e" stroke-width="1"/>
<line x1="458.2" y1="402.0" x2="492.8" y2="399.0" stroke="#8e8e8e" stroke-width="1"/>
<line x1="458.2" y1="402.0" x2="430.0" y2="409.2" stroke="#8e8e8e" stroke-width="1"/>
<line x1="458.2" y1="402.0" x2="446.4" y2="425.7" stroke="#8e8e8e" stroke-width="1"/>
<line x1="430.0" y1="409.2" x2="446.4" y2="425.7" stroke="#8e8e8e" stroke-width="1"/>
<line x1="446.4" y1="425.7" x2="464.7" y2="441.8" stroke="#8e8e8e" stroke-width="1"/>
<line x1="458.2" y1="402.0" x2="464.7" y2="441.8" stroke="#8e8e8e" stroke-width="1"/>
<line x1="492.8" y1="399.0" x2="464.7" y2="441.8" stroke="#8e8e8e" stroke-width="1"/>
<line x1="455.6" y1="385.7" x2="446.4" y2="425.7" stroke="#8e8e8e" stroke-width="1"/>
<line x1="455.6" y1="385.7" x2="430.0" y2="409.2" stroke="#8e8e8e" stroke-width="1"/>
<line x1="439.2" y1="383.2" x2="492.8" y2="399.0" stroke="#8e8e8e" stroke-width="1"/>
<line x1="489.3" y1="373.0" x2="563.3" y2="369.7" stroke="#8e8e8e" stroke-width="1"/>
<line x1="492.8" y1="399.0" x2="555.7" y2="394.3" stroke="#8e8e8e" stroke-width="1"/>
<line x1="464.7" y1="441.8" x2="479.2" y2="475.7" stroke="#8e8e8e" stroke-width="1"/>
<line x1="479.2" y1="475.7" x2="490.6" y2="496.0" stroke="#8e8e8e" stroke-width="1"/>
<line x1="479.2" y1="475.7" x2="529.1" y2="497.6" stroke="#8e8e8e" stroke-width="1"/>
<line x1="490.6" y1="496.0" x2="529.1" y2="497.6" stroke="#8e8e8e" stroke-width="1"/>
<line x1="490.6" y1="496.0" x2="510.7" y2="512.8" stroke="#8e8e8e" stroke-width="1"/>
<line x1="529.1" y1="497.6" x2="510.7" y2="512.8" stroke="#8e8e8e" stroke-width="1"/>
<line x1="529.1" y1="497.6" x2="527.8" y2="525.6" stroke="#8e8e8e" stroke-width="1"/>
<line x1="510.7" y1="512.8" x2="527.8" y2="525.6" stroke="#8e8e8e" stroke-width="1"/>
<line x1="529.1" y1="497.6" x2="549.7" y2="503.3" stroke="#8e8e8e" stroke-width="1"/>
<line x1="549.7" y1="503.3" x2="568.3" y2="513.0" stroke="#8e8e8e" stroke-width="1"/>
<line x1="549.7" y1="503.3" x2="550.7" y2="519.8" stroke="#8e8e8e" stroke-width="1"/>
<line x1="527.8" y1="525.6" x2="550.7" y2="519.8" stroke="#8e8e8e" stroke-width="1"/>
<line x1="571.7" y1="469.3" x2="529.1" y2="497.6" stroke="#8e8e8e" stroke-width="1"/>
<line x1="571.7" y1="469.3" x2="549.7" y2="503.3" stroke="#8e8e8e" stroke-width="1"/>
<line x1="571.7" y1="469.3" x2="568.3" y2="513.0" stroke="#8e8e8e" stroke-width="1"/>
<line x1="571.7" y1="469.3" x2="550.7" y2="519.8" stroke="#8e8e8e" stroke-width="1"/>
<line x1="571.7" y1="469.3" x2="596.9" y2="416.1" stroke="#8e8e8e" stroke-width="1"/>
<line x1="571.7" y1="469.3" x2="589.5" y2="402.9" stroke="#8e8e8e" stroke-width="1"/>
<line x1="446.4" y1="425.7" x2="479.2" y2="475.7" stroke="#8e8e8e" stroke-width="1"/>
<line x1="563.3" y1="369.7" x2="604.7" y2="361.5" stroke="#8e8e8e" stroke-width="1"/>
<line x1="563.3" y1="369.7" x2="589.9" y2="380.7" stroke="#8e8e8e" stroke-width="1"/>
<line x1="563.3" y1="369.7" x2="589.5" y2="402.9" stroke="#8e8e8e" stroke-width="1"/>
<line x1="604.7" y1="361.5" x2="589.9" y2="380.7" stroke="#8e8e8e" stroke-width="1"/>
<line x1="604.7" y1="361.5" x2="606.9" y2="380.1" stroke="#8e8e8e" stroke-width="1"/>
<line x1="589.9" y1="380.7" x2="606.9" y2="380.1" stroke="#8e8e8e" stroke-width="1"/>
<line x1="606.9" y1="380.1" x2="624.0" y2="388.3" stroke="#8e8e8e" stroke-width="1"/>
<line x1="589.9" y1="380.7" x2="624.0" y2="388.3" stroke="#8e8e8e" stroke-width="1"/>
<line x1="555.7" y1="394.3" x2="589.9" y2="380.7" stroke="#8e8e8e" stroke-width="1"/>
<line x1="555.7" y1="394.3" x2="589.5" y2="402.9" stroke="#8e8e8e" stroke-width="1"/>
<line x1="589.5" y1="402.9" x2="596.9" y2="416.1" stroke="#8e8e8e" stroke-width="1"/>
<line x1="589.5" y1="402.9" x2="624.0" y2="388.3" stroke="#8e8e8e" stroke-width="1"/>
<line x1="563.3" y1="369.7" x2="555.7" y2="394.3" stroke="#8e8e8e" stroke-width="1"/>
<line x1="589.9" y1="380.7" x2="589.5" y2="402.9" stroke="#8e8e8e" stroke-width="1"/>
<line x1="606.9" y1="380.1" x2="589.5" y2="402.9" stroke="#8e8e8e" stroke-width="1"/>
<line x1="555.7" y1="394.3" x2="596.9" y2="416.1" stroke="#8e8e8e" stroke-width="1"/>
<line x1="624.0" y1="388.3" x2="596.9" y2="416.1" stroke="#8e8e8e" stroke-width="1"/>
<circle cx="439.2" cy="383.2" r="10.5" fill="rgb(45, 190, 145)" stroke="#1e2a2e" stroke-width="1.1"/>
<circle cx="489.3" cy="373.0" r="10.5" fill="rgb(20, 178, 180)" stroke="#1e2a2e" stroke-width="1.1"/>
<circle cx="458.2" cy="402.0" r="10.5" fill="rgb(70, 195, 125)" stroke="#1e2a2e" stroke-width="1.1"/>
<circle cx="455.6" cy="385.7" r="10.5" fill="rgb(40, 185, 165)" stroke="#1e2a2e" stroke-width="1.1"/>
<circle cx="492.8" cy="399.0" r="10.5" fill="rgb(20, 175, 185)" stroke="#1e2a2e" stroke-width="1.1"/>
<circle cx="430.0" cy="409.2" r="10.5" fill="rgb(80, 195, 110)" stroke="#1e2a2e" stroke-width="1.1"/>
<circle cx="446.4" cy="425.7" r="10.5" fill="rgb(80, 196, 110)" stroke="#1e2a2e" stroke-width="1.1"/>
<circle cx="464.7" cy="441.8" r="10.5" fill="rgb(85, 196, 108)" stroke="#1e2a2e" stroke-width="1.1"/>
<circle cx="479.2" cy="475.7" r="10.5" fill="rgb(40, 185, 165)" stroke="#1e2a2e" stroke-width="1.1"/>
<circle cx="490.6" cy="496.0" r="10.5" fill="rgb(40, 185, 160)" stroke="#1e2a2e" stroke-width="1.1"/>
<circle cx="510.7" cy="512.8" r="10.5" fill="rgb(30, 165, 220)" stroke="#1e2a2e" stroke-width="1.1"/>
<circle cx="527.8" cy="525.6" r="10.5" fill="rgb(30, 165, 220)" stroke="#1e2a2e" stroke-width="1.1"/>
<circle cx="549.7" cy="503.3" r="10.5" fill="rgb(30, 165, 220)" stroke="#1e2a2e" stroke-width="1.1"/>
<circle cx="529.1" cy="497.6" r="10.5" fill="rgb(30, 165, 220)" stroke="#1e2a2e" stroke-width="1.1"/>
<circle cx="568.3" cy="513.0" r="10.5" fill="rgb(30, 165, 220)" stroke="#1e2a2e" stroke-width="1.1"/>
<circle cx="550.7" cy="519.8" r="10.5" fill="rgb(30, 165, 220)" stroke="#1e2a2e" stroke-width="1.1"/>
<circle cx="571.7" cy="469.3" r="10.5" fill="rgb(20, 175, 205)" stroke="#1e2a2e" stroke-width="1.1"/>
<circle cx="563.3" cy="369.7" r="10.5" fill="rgb(30, 150, 222)" stroke="#1e2a2e" stroke-width="1.1"/>
<circle cx="589.9" cy="380.7" r="10.5" fill="rgb(30, 155, 220)" stroke="#1e2a2e" stroke-width="1.1"/>
<circle cx="624.0" cy="388.3" r="10.5" fill="rgb(30, 155, 220)" stroke="#1e2a2e" stroke-width="1.1"/>
<circle cx="606.9" cy="380.1" r="10.5" fill="rgb(30, 155, 220)" stroke="#1e2a2e" stroke-width="1.1"/>
<circle cx="604.7" cy="361.5" r="10.5" fill="rgb(30, 155, 222)" stroke="#1e2a2e" stroke-width="1.1"/>
<circle cx="555.7" cy="394.3" r="10.5" fill="rgb(20, 172, 200)" stroke="#1e2a2e" stroke-width="1.1"/>
<circle cx="596.9" cy="416.1" r="10.5" fill="rgb(25, 172, 205)" stroke="#1e2a2e" stroke-width="1.1"/>
<circle cx="589.5" cy="402.9" r="10.5" fill="rgb(20, 168, 208)" stroke="#1e2a2e" stroke-width="1.1"/>
</svg>
</body></html>
